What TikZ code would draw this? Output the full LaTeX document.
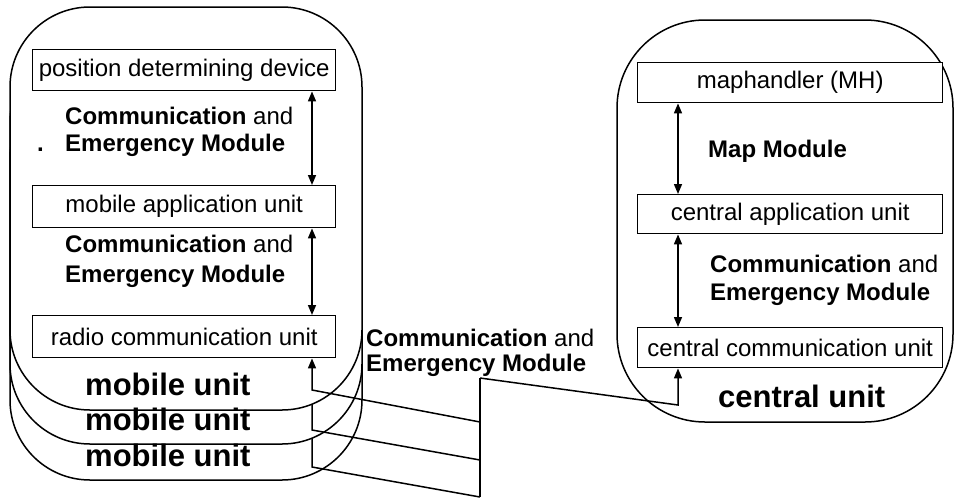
\documentclass[tikz,border=0pt]{standalone}
\usepackage{fontspec}
\setmainfont{Liberation Sans}
\usetikzlibrary{arrows.meta}
\begin{document}
\begin{tikzpicture}[x=1pt,y=-1pt,
  unitshape/.style={draw,line width=1.5pt,fill=white,rounded corners=80pt},
  box/.style={draw,line width=1.4pt,fill=white,minimum width=303pt,minimum height=41pt,inner sep=0pt,font=\fontsize{24}{26}\selectfont,anchor=north west},
  rbox/.style={box,minimum width=305pt,minimum height=40pt},
  lbl/.style={anchor=base west,inner sep=0pt,font=\fontsize{24}{26}\selectfont},
  big/.style={anchor=base west,inner sep=0pt,font=\fontsize{31}{34}\selectfont\bfseries},
  wire/.style={line width=1.5pt},
  biarrow/.style={line width=1.5pt,{Triangle[length=10pt,width=8pt]}-{Triangle[length=10pt,width=8pt]}},
  uparrow/.style={line width=1.5pt,-{Triangle[length=10pt,width=8pt]}}]
\useasboundingbox (0,0) rectangle (955,499);
\coordinate (xl) at (312,0);
\coordinate (xr) at (678,0);
\coordinate (j1) at (480,422);
\coordinate (j2) at (480,460);
\coordinate (j3) at (480,497);
\coordinate (bt) at (480,378);
\coordinate (k1) at (312,390);
\coordinate (k2) at (312,430);
\coordinate (k3) at (312,467);
\coordinate (h2) at (312,380);
\coordinate (h3) at (312,420);
\coordinate (kc) at (678,405);
% back mobile units
\draw[unitshape] (10,78) rectangle (362,480);
\draw[wire] (h3) -- (k3) -- (j3);
\draw[unitshape] (10,42) rectangle (362,444);
\draw[wire] (h2) -- (k2) -- (j2);
% front mobile unit
\draw[unitshape] (10,7) rectangle (362,410);
% central unit
\draw[unitshape,rounded corners=88pt] (617,20) rectangle (953,422);
% boxes
\node[box] (pdd) at (32,49) {position determining device};
\node[box,minimum height=42pt] (mau) at (32,185) {mobile application unit};
\node[box,minimum height=42pt] (rcu) at (32,315) {radio communication unit};
\node[rbox] (mh) at (637,62) {maphandler (MH)};
\node[rbox,minimum height=39pt] (cau) at (637,194) {central application unit};
\node[rbox] (ccu) at (637,327) {central communication unit};
% arrows
\draw[biarrow] (pdd.south -| xl) -- (mau.north -| xl);
\draw[biarrow] (mau.south -| xl) -- (rcu.north -| xl);
\draw[biarrow] (mh.south -| xr) -- (cau.north -| xr);
\draw[biarrow] (cau.south -| xr) -- (ccu.north -| xr);
\draw[uparrow] (j1) -- (k1) -- (rcu.south -| xl);
\draw[wire] (bt) -- (j3);
\draw[uparrow] (bt) -- (kc) -- (ccu.south -| xr);
% labels
\node[lbl] (dot) at (37,151) {\textbf{.}};
\node[lbl] (l1a) at (65,124) {\textbf{Communication} and};
\node[lbl] (l1b) at (65,151) {\textbf{Emergency Module}};
\node[lbl] (l2a) at (65,252) {\textbf{Communication} and};
\node[lbl] (l2b) at (65,282) {\textbf{Emergency Module}};
\node[lbl] (l3a) at (366,346) {\textbf{Communication} and};
\node[lbl] (l3b) at (366,371) {\textbf{Emergency Module}};
\node[lbl] (l4) at (708,157) {\textbf{Map Module}};
\node[lbl] (l5a) at (710,272) {\textbf{Communication} and};
\node[lbl] (l5b) at (710,300) {\textbf{Emergency Module}};
\node[big] (mu1) at (85,395) {mobile unit};
\node[big] (mu2) at (85,430) {mobile unit};
\node[big] (mu3) at (85,466) {mobile unit};
\node[big] (cu) at (718,407) {central unit};
\end{tikzpicture}
\end{document}
